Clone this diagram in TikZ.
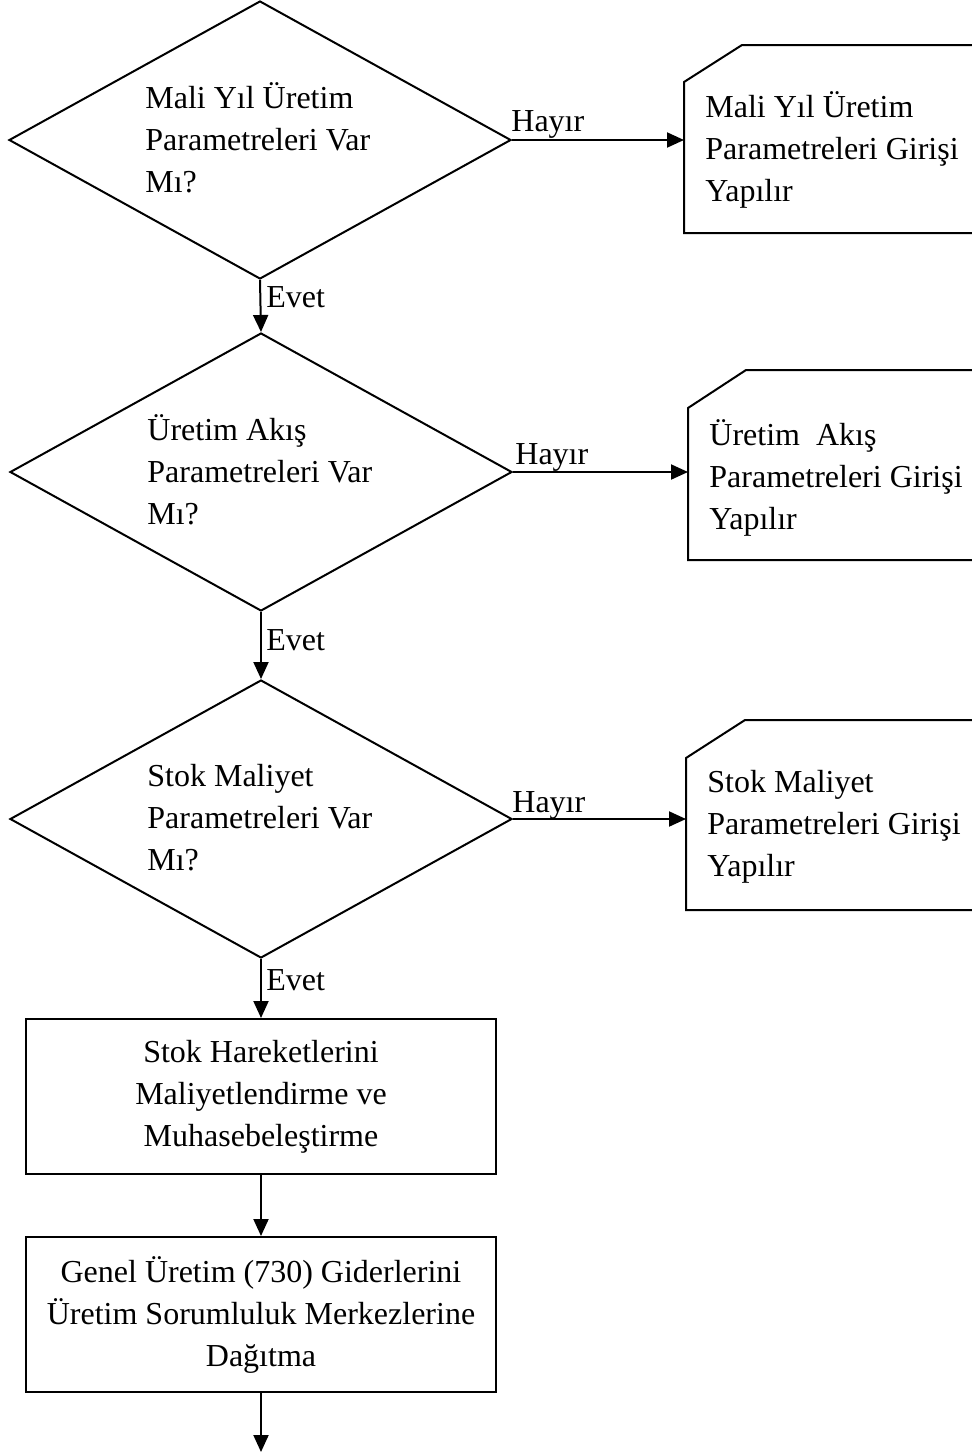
\documentclass[tikz,border=0pt]{standalone}
\usepackage{fontspec}
\setmainfont{Liberation Serif}
\usetikzlibrary{arrows.meta,shapes.geometric}
\begin{document}
\begin{tikzpicture}[x=0.5pt,y=-0.5pt,
  arr/.style={line width=1pt,-{Triangle[length=8.5pt,width=7.5pt]}},
  dia/.style={diamond,draw,line width=1pt,minimum width=251pt,minimum height=139pt,inner sep=0pt},
  txt/.style={font=\fontsize{16}{21}\selectfont,align=left,inner sep=0pt,anchor=west},
  boxn/.style={draw,line width=1pt,minimum width=235pt,minimum height=77.5pt,align=center,font=\fontsize{16}{21}\selectfont,inner sep=0pt},
  lab/.style={font=\fontsize{16}{21}\selectfont,inner sep=0pt,anchor=base west},
  card/.style={line width=1pt}]
\useasboundingbox (0,0) rectangle (971,1452);

% diamonds
\node[dia] (d1) at (260,140) {};
\node[txt] (t1) at (145,138) {Mali Yıl Üretim\\Parametreleri Var\\Mı?};
\node[dia] (d2) at (261,472) {};
\node[txt] (t2) at (147,470) {Üretim Akış\\Parametreleri Var\\Mı?};
\node[dia] (d3) at (261,819) {};
\node[txt] (t3) at (147,818) {Stok Maliyet\\Parametreleri Var\\Mı?};

% cards
\draw[card] (972,45) -- (742,45) -- (684,82) -- (684,233) -- (972,233);
\coordinate (c1) at (684,140);
\node[txt] (ct1) at (705,150) {Mali Yıl Üretim\\Parametreleri Girişi\\Yapılır};
\draw[card] (972,370) -- (746,370) -- (688,408) -- (688,560) -- (972,560);
\coordinate (c2) at (688,472);
\node[txt] (ct2) at (709,478) {Üretim\ \ Akış\\Parametreleri Girişi\\Yapılır};
\draw[card] (972,720) -- (745,720) -- (686,758) -- (686,910) -- (972,910);
\coordinate (c3) at (686,819);
\node[txt] (ct3) at (707,827) {Stok Maliyet\\Parametreleri Girişi\\Yapılır};

% rectangles
\node[boxn] (r1) at (261,1096.5) {Stok Hareketlerini\\Maliyetlendirme ve\\Muhasebeleştirme};
\node[boxn] (r2) at (261,1314.5) {Genel Üretim (730) Giderlerini\\Üretim Sorumluluk Merkezlerine\\Dağıtma};
\coordinate (end) at (261,1452);

% connectors
\draw[arr] (d1.east) -- (c1);
\draw[arr] (d2.east) -- (c2);
\draw[arr] (d3.east) -- (c3);
\draw[arr] (d1.south) -- (d2.north);
\draw[arr] (d2.south) -- (d3.north);
\draw[arr] (d3.south) -- (r1.north);
\draw[arr] (r1.south) -- (r2.north);
\draw[arr] (r2.south) -- (end);

% labels
\node[lab] (h1) at (511,131) {Hayır};
\node[lab] (h2) at (515,464) {Hayır};
\node[lab] (h3) at (512,812) {Hayır};
\node[lab] (e1) at (266,307) {Evet};
\node[lab] (e2) at (266,650) {Evet};
\node[lab] (e3) at (266,990) {Evet};
\end{tikzpicture}
\end{document}
